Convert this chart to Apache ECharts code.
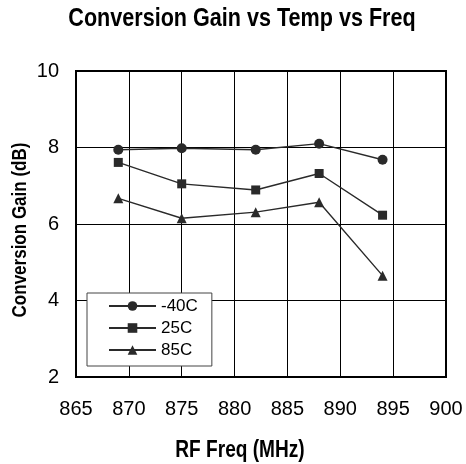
<!DOCTYPE html>
<html>
<head>
<meta charset="utf-8">
<script src="https://cdn.jsdelivr.net/npm/echarts@6/dist/echarts.min.js"></script>
<style>html,body{margin:0;padding:0;background:#fff}#c{width:466px;height:464px}</style>
</head>
<body>
<div id="c"></div>
<script>
var freqs = [869, 875, 882, 888, 894];
var gainM40 = [7.94, 7.98, 7.94, 8.10, 7.68];
var gain25 = [7.61, 7.05, 6.89, 7.32, 6.23];
var gain85 = [6.67, 6.15, 6.31, 6.57, 4.65];
var seriesNames = ['-40C', '25C', '85C'];
var xTicks = [865, 870, 875, 880, 885, 890, 895, 900];
var yTicks = [2, 4, 6, 8, 10];
var titleText = 'Conversion Gain vs Temp vs Freq';
var xName = 'RF Freq (MHz)';
var yName = 'Conversion Gain (dB)';

var reg = '"Liberation Sans", Arial, sans-serif';
function pts(ys) { return freqs.map(function (f, i) { return [f, ys[i]]; }); }
var lineColor = '#2a2a2a';
function mk(name, ys, sym, size) {
  return {
    name: name, type: 'line', data: pts(ys), symbol: sym, symbolSize: size,
    showAllSymbol: true,
    lineStyle: { color: lineColor, width: 1.4 },
    itemStyle: { color: lineColor, borderWidth: 0 },
    emphasis: { disabled: true }, animation: false
  };
}
function condText(text, x, y, size, sx, rot) {
  return {
    type: 'text', x: x, y: y, scaleX: sx, rotation: rot || 0, silent: true, z: 10,
    style: { text: text, font: 'bold ' + size + 'px "Liberation Sans", Arial, sans-serif',
             fill: '#000', align: 'center', verticalAlign: 'middle' }
  };
}
var chart = echarts.init(document.getElementById('c'));
chart.setOption({
  animation: false,
  graphic: [
    condText(titleText, 242, 19, 26, 0.83),
    condText(xName, 240, 451, 23, 0.83),
    condText(yName, 20, 230, 21, 0.81, Math.PI / 2)
  ],
  grid: { left: 76, right: 20, top: 71, bottom: 87, show: true, borderColor: '#000', borderWidth: 2, backgroundColor: 'transparent' },
  legend: {
    orient: 'vertical', left: 87, top: 293,
    data: seriesNames,
    itemWidth: 47, itemHeight: 12, itemGap: 4,
    padding: [4, 14, 7, 21],
    backgroundColor: '#fff', borderColor: '#444', borderWidth: 1, borderRadius: 0,
    textStyle: { fontFamily: reg, fontSize: 17, color: '#000', lineHeight: 18 },
    selectedMode: false
  },
  xAxis: {
    type: 'value', min: xTicks[0], max: xTicks[xTicks.length - 1], interval: 5,
    axisLine: { show: true, lineStyle: { color: '#000', width: 2 } },
    axisTick: { show: false },
    axisLabel: { fontFamily: reg, fontSize: 20, color: '#000', margin: 22 },
    splitLine: { show: true, lineStyle: { color: '#000', width: 1 } }
  },
  yAxis: {
    type: 'value', min: yTicks[0], max: yTicks[yTicks.length - 1], interval: 2,
    axisLine: { show: true, lineStyle: { color: '#000', width: 2 } },
    axisTick: { show: false },
    axisLabel: { fontFamily: reg, fontSize: 20, color: '#000', margin: 17 },
    splitLine: { show: true, lineStyle: { color: '#000', width: 1 } }
  },
  series: [
    mk(seriesNames[0], gainM40, 'circle', 10),
    mk(seriesNames[1], gain25, 'rect', 9),
    mk(seriesNames[2], gain85, 'triangle', 10)
  ]
});
</script>
</body>
</html>
